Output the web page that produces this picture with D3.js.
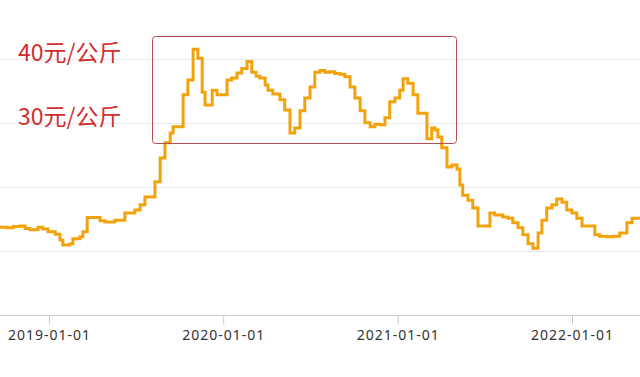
<!doctype html>
<html lang="zh-CN">
<head>
	<meta charset="UTF-8">
	<title>价格走势</title>
	<style>
		html, body {
			margin: 0;
			padding: 0;
			background: #fff;
		}
		svg {
			display: block;
		}
		.grid line {
			stroke: #ebebeb;
		}
		.x-axis text {
			font-family: "Noto Sans", sans-serif;
			font-size: 14px;
			letter-spacing: 1px;
			fill: #333;
		}
		.x-axis line {
			stroke: #ccc;
		}
		.note {
			font-family: "Noto Sans CJK SC", sans-serif;
			font-size: 23px;
			fill: #d12e2e;
		}
	</style>
</head>
<body>
	<script src="https://cdn.jsdelivr.net/npm/d3@7"></script>
	<script>
		var w = 640,
			h = 377;

		// price change points (stepped)
		var dates = [
			'2018-09-12', '2018-10-05', '2018-10-18', '2018-11-01', '2018-11-12', '2018-11-22',
			'2018-12-09', '2018-12-19', '2018-12-30', '2019-01-14', '2019-01-24', '2019-01-30',
			'2019-02-14', '2019-02-20', '2019-03-07', '2019-03-13', '2019-03-22', '2019-04-18',
			'2019-04-28', '2019-05-19', '2019-06-09', '2019-06-30', '2019-07-11', '2019-07-21',
			'2019-08-11', '2019-08-22', '2019-09-01', '2019-09-12', '2019-09-18', '2019-10-09',
			'2019-10-19', '2019-10-30', '2019-11-09', '2019-11-18', '2019-11-24', '2019-12-09',
			'2019-12-19', '2020-01-09', '2020-01-19', '2020-01-30', '2020-02-09', '2020-02-20',
			'2020-03-01', '2020-03-10', '2020-03-18', '2020-03-29', '2020-04-04', '2020-04-14',
			'2020-04-29', '2020-05-09', '2020-05-20', '2020-05-30', '2020-06-10', '2020-06-20',
			'2020-07-01', '2020-07-11', '2020-07-22', '2020-08-01', '2020-08-12', '2020-08-22',
			'2020-09-02', '2020-09-12', '2020-09-23', '2020-10-03', '2020-10-14', '2020-10-24',
			'2020-11-04', '2020-11-14', '2020-11-25', '2020-12-05', '2020-12-15', '2020-12-26',
			'2021-01-05', '2021-01-12', '2021-01-22', '2021-02-02', '2021-02-12', '2021-03-03',
			'2021-03-13', '2021-03-20', '2021-03-26', '2021-04-03', '2021-04-14', '2021-04-24',
			'2021-05-05', '2021-05-11', '2021-05-17', '2021-05-28', '2021-06-07', '2021-06-18',
			'2021-07-13', '2021-07-23', '2021-08-09', '2021-08-20', '2021-08-30', '2021-09-10',
			'2021-09-20', '2021-10-01', '2021-10-11', '2021-10-22', '2021-10-30', '2021-11-09',
			'2021-11-20', '2021-11-30', '2021-12-11', '2021-12-21', '2022-01-01', '2022-01-11',
			'2022-01-22', '2022-02-18', '2022-02-28', '2022-03-15', '2022-03-28', '2022-04-11',
			'2022-04-26', '2022-05-07', '2022-05-23', '2022-06-03'
		];

		var prices = [
			13.8, 13.7, 13.9, 14.0, 13.6, 13.4,
			13.8, 13.5, 13.1, 12.7, 11.8, 11.0,
			11.2, 12.0, 12.3, 13.1, 15.3, 14.8,
			14.6, 14.9, 16.0, 16.5, 17.3, 18.5,
			20.9, 24.6, 27.0, 28.5, 29.5, 34.5,
			36.8, 41.6, 40.2, 34.9, 32.9, 35.2,
			34.5, 36.8, 37.1, 37.9, 38.6, 39.7,
			38.0, 37.4, 37.1, 36.0, 35.2, 34.6,
			33.7, 32.1, 28.5, 29.3, 32.0, 34.0,
			35.7, 38.0, 38.3, 38.0, 38.1, 37.8,
			37.7, 37.3, 35.7, 34.0, 32.0, 30.1,
			29.5, 29.9, 29.8, 30.9, 33.4, 34.0,
			35.2, 37.0, 36.3, 34.5, 31.6, 27.6,
			29.3, 29.0, 27.9, 26.2, 23.2, 23.5,
			22.9, 20.4, 18.8, 18.0, 16.8, 14.0,
			16.0, 15.7, 15.4, 15.2, 14.5, 13.7,
			12.6, 11.2, 10.5, 12.9, 14.9, 16.8,
			17.3, 18.2, 17.7, 16.5, 16.0, 15.2,
			14.0, 12.6, 12.4, 12.3, 12.4, 12.9,
			14.5, 15.2, 15.2, 15.2
		];

		var xTicks = ['2019-01-01', '2020-01-01', '2021-01-01', '2022-01-01'];
		var gridValues = [10, 20, 30, 40];
		var notes = ['40元/公斤', '30元/公斤'];
		var noteValues = [40, 30];
		// annotation box: time span and price span it covers
		var boxDates = ['2019-08-05', '2021-05-03'];
		var boxValues = [27.0, 43.6];

		var parse = d3.timeParse('%Y-%m-%d');

		var data = dates.map(function(d, i) {
			return { date: parse(d), value: prices[i] };
		});

		var svg = d3.select('body')
			.append('svg')
			.attr('width', w)
			.attr('height', h);

		var xScale = d3.scaleTime()
			.domain([parse(xTicks[0]), parse(xTicks[3])])
			.range([49, 572]);

		var yScale = d3.scaleLinear()
			.domain([0, 50])
			.range([315.5, -4.5]);

		// horizontal grid lines
		svg.append('g')
			.attr('class', 'grid')
			.selectAll('line')
			.data(gridValues)
			.enter()
			.append('line')
			.attr('x1', 0)
			.attr('x2', w)
			.attr('y1', function(d) { return yScale(d); })
			.attr('y2', function(d) { return yScale(d); });

		// x axis
		var xAxis = d3.axisBottom(xScale)
			.tickValues(xTicks.map(parse))
			.tickFormat(d3.timeFormat('%Y-%m-%d'))
			.tickSize(9)
			.tickPadding(6);

		var gx = svg.append('g')
			.attr('class', 'x-axis')
			.attr('transform', 'translate(0,' + yScale(0) + ')')
			.call(xAxis);
		gx.select('.domain').remove();
		gx.append('line')
			.attr('x1', 0)
			.attr('x2', w)
			.attr('stroke', '#ccc');

		// the stepped price line
		var line = d3.line()
			.curve(d3.curveStepAfter)
			.x(function(d) { return xScale(d.date); })
			.y(function(d) { return yScale(d.value); });

		svg.append('path')
			.datum(data)
			.attr('d', line)
			.attr('fill', 'none')
			.attr('stroke', '#f2a30c')
			.attr('stroke-width', 3)
			.attr('stroke-linejoin', 'miter');

		// red annotation box
		var bx0 = Math.round(xScale(parse(boxDates[0]))) + 0.5,
			bx1 = Math.round(xScale(parse(boxDates[1]))) + 0.5,
			by0 = Math.round(yScale(boxValues[1])) + 0.5,
			by1 = Math.round(yScale(boxValues[0])) + 0.5;

		svg.append('rect')
			.attr('x', bx0)
			.attr('y', by0)
			.attr('width', bx1 - bx0)
			.attr('height', by1 - by0)
			.attr('rx', 3)
			.attr('fill', 'none')
			.attr('stroke', '#b5504b')
			.attr('stroke-width', 1);

		// red price notes
		svg.selectAll('text.note')
			.data(notes)
			.enter()
			.append('text')
			.attr('class', 'note')
			.attr('x', 18)
			.attr('y', function(d, i) { return yScale(noteValues[i]) + 1.5; })
			.text(function(d) { return d; });
	</script>
</body>
</html>
